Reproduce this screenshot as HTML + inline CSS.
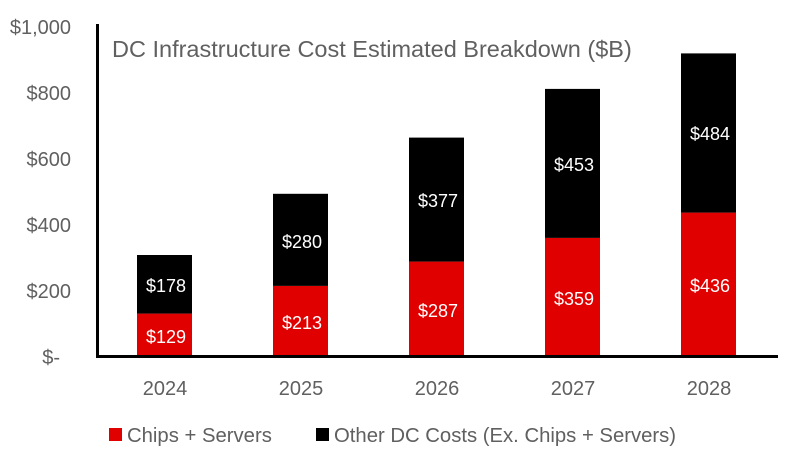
<!DOCTYPE html>
<html><head><style>
body{margin:0;background:#fff;}
svg text{font-family:"Liberation Sans",sans-serif;}
</style></head><body>
<svg width="785" height="457" xmlns="http://www.w3.org/2000/svg">
<g font-size="20" fill="#606060" text-anchor="end">
<text x="71" y="34">$1,000</text>
<text x="71" y="100">$800</text>
<text x="71" y="166">$600</text>
<text x="71" y="232">$400</text>
<text x="71" y="298">$200</text>
<text x="60" y="364">$-</text>
</g>
<text x="112" y="57" font-size="23.5" fill="#606060">DC Infrastructure Cost Estimated Breakdown ($B)</text>
<g>
<rect x="137" y="313.6" width="55" height="42.4" fill="#e00000"/><rect x="137" y="255" width="55" height="58.6" fill="#000"/>
<rect x="273" y="285.9" width="55" height="70.1" fill="#e00000"/><rect x="273" y="193.8" width="55" height="92.1" fill="#000"/>
<rect x="409" y="261.6" width="55" height="94.4" fill="#e00000"/><rect x="409" y="137.6" width="55" height="124" fill="#000"/>
<rect x="545" y="237.9" width="55" height="118.1" fill="#e00000"/><rect x="545" y="88.9" width="55" height="149" fill="#000"/>
<rect x="681" y="212.6" width="55" height="143.4" fill="#e00000"/><rect x="681" y="53.4" width="55" height="159.2" fill="#000"/>
</g>
<g font-size="18" fill="#fff" text-anchor="middle">
<text x="166" y="343">$129</text><text x="166" y="292">$178</text>
<text x="302" y="329">$213</text><text x="302" y="248">$280</text>
<text x="438" y="317">$287</text><text x="438" y="207">$377</text>
<text x="574" y="305">$359</text><text x="574" y="171">$453</text>
<text x="710" y="292">$436</text><text x="710" y="140">$484</text>
</g>
<line x1="97.5" y1="24" x2="97.5" y2="357" stroke="#000" stroke-width="3"/>
<line x1="96" y1="356.5" x2="778" y2="356.5" stroke="#000" stroke-width="3"/>
<g font-size="20" fill="#606060" text-anchor="middle">
<text x="165" y="395">2024</text><text x="301" y="395">2025</text><text x="437" y="395">2026</text><text x="573" y="395">2027</text><text x="709" y="395">2028</text>
</g>
<rect x="109" y="428" width="13" height="13" fill="#e00000"/>
<text x="127" y="442" font-size="20.3" fill="#606060">Chips + Servers</text>
<rect x="316" y="428" width="13" height="13" fill="#000"/>
<text x="334" y="442" font-size="20.3" fill="#606060">Other DC Costs (Ex. Chips + Servers)</text>
</svg>
</body></html>
